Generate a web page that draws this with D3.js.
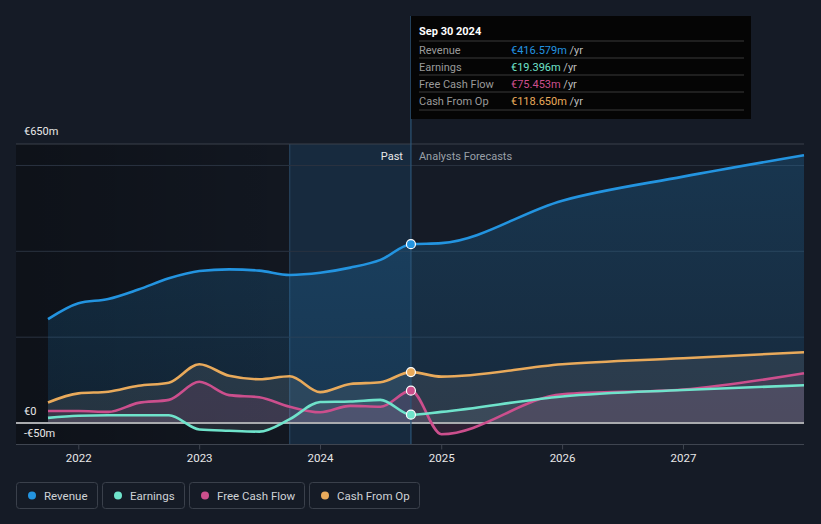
<!DOCTYPE html>
<html><head><meta charset="utf-8">
<script src="https://cdn.jsdelivr.net/npm/d3@7"></script>
<style>
html,body{margin:0;padding:0;background:#151b26;}
svg{display:block;font-family:Roboto,"Noto Sans",sans-serif;}
</style></head>
<body><svg id="c" width="821" height="524"></svg>
<script>
const dates = ["2021-09-30","2021-12-31","2022-03-31","2022-06-30","2022-09-30","2022-12-31","2023-03-31","2023-06-30","2023-09-30","2023-12-31","2024-03-31","2024-06-30","2024-09-30","2024-12-31","2025-12-31","2026-12-31","2027-12-31"];
const revenue   = [242,279,289,311,337,354,358,355,345,350,362,380,416.579,419,518,574,624];
const earnings  = [12,17,18,18,18,-15,-18,-20,9,49,50,54,19.396,26,62,77,88];
const fcf       = [28,28,26,47,54,96,65,60,38,25,40,38,75.453,-26,67,78,116];
const cfo       = [48,69,73,87,94,137,110,102,109,72,91,95,118.65,108,137,151,165];
const yTicks = [650,0,-50];
const yTickLabels = ["€650m","€0","-€50m"];
const gridVals = [200,400,600];
const xTickYears = [2022,2023,2024,2025,2026,2027];
const seriesNames = ["Revenue","Earnings","Free Cash Flow","Cash From Op"];
const seriesColors = ["#2394e0","#6fe3cb","#cc4f8d","#e9aa5b"];
const tooltipDate = "Sep 30 2024";
const tooltipValues = ["€416.579m","€19.396m","€75.453m","€118.650m"];

const parse = d3.utcParse("%Y-%m-%d");
const D = dates.map(parse);
const svg = d3.select("#c");
const x = d3.scaleUtc().domain([parse("2021-09-30"), parse("2027-12-31")]).range([48, 804]);
const y = d3.scaleLinear().domain([-50, 650]).range([444.5, 144]);
const nowIdx = 12;
const xNow = x(D[nowIdx]);
const xPastStart = x(parse("2023-09-30"));

const defs = svg.append("defs");
const pg = defs.append("linearGradient").attr("id","pastg").attr("x1","0").attr("x2","1").attr("y1","0").attr("y2","0");
pg.append("stop").attr("offset","0").attr("stop-color","#000").attr("stop-opacity",0.35);
pg.append("stop").attr("offset","1").attr("stop-color","#000").attr("stop-opacity",0.15);
const rg = defs.append("linearGradient").attr("id","revg").attr("x1","0").attr("x2","0").attr("y1","0").attr("y2","1");
rg.append("stop").attr("offset","0").attr("stop-color","#2394e0").attr("stop-opacity",0.22);
rg.append("stop").attr("offset","1").attr("stop-color","#2394e0").attr("stop-opacity",0.12);

// past dark region and highlight band
svg.append("rect").attr("x",16).attr("y",144).attr("width",xPastStart-16).attr("height",300).attr("fill","url(#pastg)");
svg.append("rect").attr("x",xPastStart).attr("y",144).attr("width",xNow-xPastStart).attr("height",300).attr("fill","#2394e0").attr("opacity",0.13);
svg.append("line").attr("x1",xPastStart).attr("x2",xPastStart).attr("y1",144).attr("y2",444).attr("stroke","#2a4a66").attr("stroke-width",1);

// gridlines
svg.selectAll(".g").data(gridVals).enter().append("line")
  .attr("x1",16).attr("x2",804).attr("y1",d=>y(d)).attr("y2",d=>y(d))
  .attr("stroke","#2a3340").attr("stroke-width",1);
svg.append("line").attr("x1",16).attr("x2",804).attr("y1",y(650)).attr("y2",y(650)).attr("stroke","#3b414b").attr("stroke-width",1);

const curve = d3.curveMonotoneX;
function pts(arr){ return arr.map((v,i)=>({d:D[i],v})); }

// revenue area
svg.append("path").datum(pts(revenue))
  .attr("d", d3.area().curve(curve).x(p=>x(p.d)).y0(y(0)).y1(p=>y(p.v)))
  .attr("fill","url(#revg)");
// other areas
const areaFills = [null,"rgba(170,180,195,0.13)","rgba(204,79,141,0.13)","rgba(190,185,170,0.12)"];
[cfo,fcf,earnings].forEach((arr,k)=>{
  const idx = [3,2,1][k];
  svg.append("path").datum(pts(arr))
    .attr("d", d3.area().curve(curve).x(p=>x(p.d)).y0(y(0)).y1(p=>y(p.v)))
    .attr("fill", areaFills[idx]);
});

// zero line & bottom axis
svg.append("line").attr("x1",16).attr("x2",804).attr("y1",y(0)).attr("y2",y(0)).attr("stroke","#a9abae").attr("stroke-width",2);
const xAxis = svg.append("g").attr("transform","translate(0,444.5)");
xAxis.append("line").attr("x1",16).attr("x2",804).attr("y1",0).attr("y2",0).attr("stroke","#3f4550");
xTickYears.forEach(yr=>{
  const xx = x(parse(yr+"-01-01"));
  xAxis.append("line").attr("x1",xx).attr("x2",xx).attr("y1",0).attr("y2",5).attr("stroke","#3f4550");
  xAxis.append("text").attr("x",xx).attr("y",17).attr("text-anchor","middle").attr("fill","#e8e8e8").attr("font-size",11.5).text(yr);
});

// lines
const allSeries = [revenue,earnings,fcf,cfo];
[3,2,1,0].forEach(i=>{
  svg.append("path").datum(pts(allSeries[i]))
    .attr("d", d3.line().curve(curve).x(p=>x(p.d)).y(p=>y(p.v)))
    .attr("fill","none").attr("stroke",seriesColors[i]).attr("stroke-width",2.6);
});

// now line
svg.append("line").attr("x1",xNow).attr("x2",xNow).attr("y1",16).attr("y2",444).attr("stroke","#2c5577").attr("stroke-width",1.2);

// markers
allSeries.forEach((arr,i)=>{
  svg.append("circle").attr("cx",xNow).attr("cy",y(arr[nowIdx])).attr("r",4.5)
    .attr("fill",seriesColors[i]).attr("stroke","#fff").attr("stroke-width",1.2);
});

// y labels
yTicks.forEach((v,i)=>{
  const yy = v===650 ? y(v)-9 : (v===0 ? y(v)-8 : y(0)+14);
  svg.append("text").attr("x",24).attr("y",yy).attr("fill","#e8e8e8").attr("font-size",11).text(yTickLabels[i]);
});

// past / forecasts labels
svg.append("text").attr("x",xNow-8).attr("y",160).attr("text-anchor","end").attr("fill","#e8e8e8").attr("font-size",11).text("Past");
svg.append("text").attr("x",xNow+8).attr("y",160).attr("fill","#9aa0a8").attr("font-size",11).text("Analysts Forecasts");

// tooltip
const tt = svg.append("g").attr("transform","translate(411,16)");
tt.append("rect").attr("width",340).attr("height",103).attr("fill","#050505");
tt.append("text").attr("x",8).attr("y",19).attr("fill","#ffffff").attr("font-size",11).attr("font-weight","bold").text(tooltipDate);
const rowY = [25,42,59,76,94];
rowY.forEach(ry=>tt.append("line").attr("x1",8).attr("x2",333).attr("y1",ry).attr("y2",ry).attr("stroke","#3a3a3a"));
seriesNames.forEach((n,i)=>{
  const by = rowY[i]+13;
  tt.append("text").attr("x",8).attr("y",by).attr("fill","#9a9a9a").attr("font-size",11).text(n);
  const t = tt.append("text").attr("x",100).attr("y",by).attr("font-size",11);
  t.append("tspan").attr("fill",seriesColors[i]).text(tooltipValues[i]);
  t.append("tspan").attr("fill","#bdbdbd").text(" /yr");
});

// legend
const legX = [16,102,189,309], legW = [81,82,115,110];
seriesNames.forEach((n,i)=>{
  const g = svg.append("g").attr("transform",`translate(${legX[i]},482)`);
  g.append("rect").attr("x",0.5).attr("y",0.5).attr("width",legW[i]).attr("height",26).attr("rx",3)
    .attr("fill","none").attr("stroke","#3a404b");
  g.append("circle").attr("cx",16).attr("cy",13.5).attr("r",4).attr("fill",seriesColors[i]);
  g.append("text").attr("x",28).attr("y",17.5).attr("fill","#cfd2d6").attr("font-size",11.5).text(n);
});
</script></body></html>
